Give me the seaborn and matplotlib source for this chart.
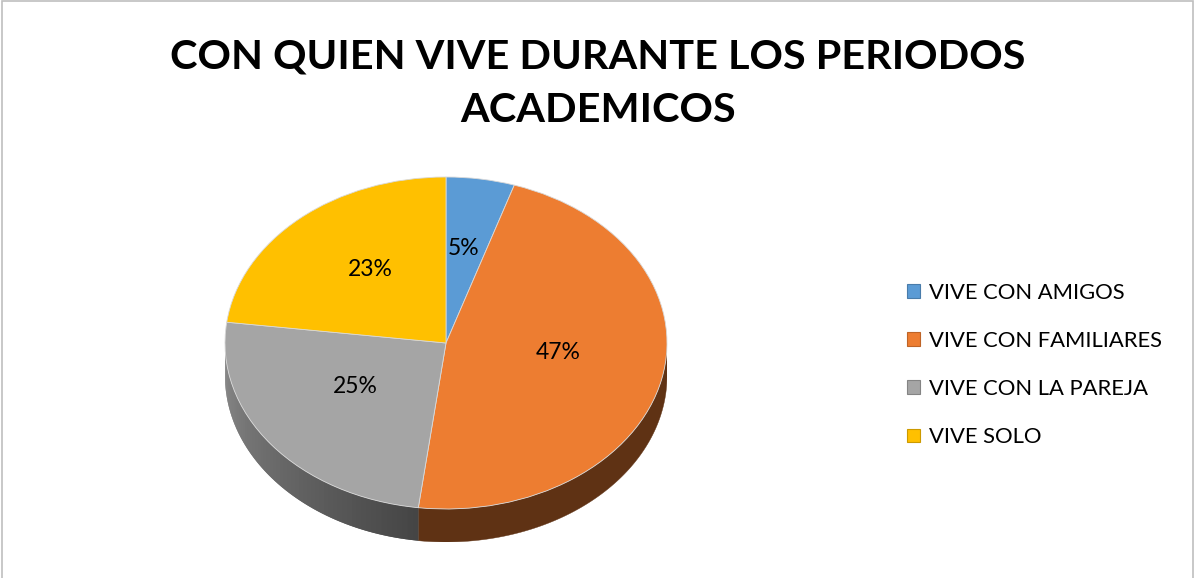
import numpy as np
import matplotlib
matplotlib.use("Agg")
import matplotlib.pyplot as plt
import matplotlib.transforms as mtransforms
import seaborn as sns
from matplotlib.patches import Polygon, Rectangle
from matplotlib.colors import to_rgb

categories = ["VIVE CON AMIGOS", "VIVE CON FAMILIARES", "VIVE CON LA PAREJA", "VIVE SOLO"]
shares = [5, 47, 25, 23]
top_colors = ["#5B9BD5", "#ED7D31", "#A5A5A5", "#FFC000"]
title = "CON QUIEN VIVE DURANTE LOS PERIODOS\nACADEMICOS"

sns.set_theme(style="white")
plt.rcParams["font.family"] = ["Lato", "DejaVu Sans"]
plt.rcParams["text.color"] = "black"

W, H = 1195, 578
fig = plt.figure(figsize=(W / 100, H / 100), dpi=100)
fig.patch.set_facecolor("white")

# pie ellipse: x 225..667, top 177, top-face bottom 509, side down to ~542
depth = 33 / 166
ax = fig.add_axes([225 / W, (H - 542) / H, 442 / W, (542 - 177) / H])

wedges, texts, autotexts = ax.pie(
    shares, colors=top_colors, startangle=90, counterclock=False,
    autopct="%1.0f%%", pctdistance=0.52,
    wedgeprops={"linewidth": 0.6, "edgecolor": "#d9d9d9"},
    textprops={"fontsize": 16.5, "color": "black"})
ax.set_aspect("auto")
ax.set_xlim(-1, 1)
ax.set_ylim(-1 - depth, 1)
ax.axis("off")

# labels sit a bit higher in the perspective view
for t in autotexts:
    t.set_transform(mtransforms.offset_copy(t.get_transform(), fig=fig, x=0, y=9, units="dots"))
    t.set_zorder(3)

# side of the 3D disc (front half only)
def shade(c, f):
    r, g, b = to_rgb(c)
    return (r * f, g * f, b * f)

for w, col in zip(wedges, top_colors):
    t = np.radians(np.linspace(w.theta1, w.theta2, 400))
    t = t[np.sin(t) <= 0.0]
    if len(t) < 2:
        continue
    if col == "#A5A5A5":
        # gray side has a light-to-dark gradient
        n = 60
        edges = np.linspace(t.min(), t.max(), n + 1)
        for i in range(n):
            tt = np.linspace(edges[i], edges[min(i + 2, n)], 8)
            f = 0.84 - 0.42 * (i / (n - 1))
            xs = np.concatenate([np.cos(tt), np.cos(tt[::-1])])
            ys = np.concatenate([np.sin(tt), np.sin(tt[::-1]) - depth])
            ax.add_patch(Polygon(np.column_stack([xs, ys]), closed=True,
                                 fc=shade("#A5A5A5", f), lw=0, zorder=0))
    else:
        xs = np.concatenate([np.cos(t), np.cos(t[::-1])])
        ys = np.concatenate([np.sin(t), np.sin(t[::-1]) - depth])
        ax.add_patch(Polygon(np.column_stack([xs, ys]), closed=True,
                             fc=shade(col, 0.40), ec=shade(col, 0.40), lw=0.3, zorder=0))

for w in wedges:
    w.set_zorder(2)

# title
fig.text(598 / W, 1 - 84 / H, title, ha="center", va="center", color="black",
         fontsize=29.8, fontweight="bold", linespacing=1.55)

# legend
handles = [Rectangle((0, 0), 1, 1, fc=c, ec=shade(c, 0.8), lw=0.8) for c in top_colors]
fig.legend(handles, categories, loc="upper left",
           bbox_to_anchor=(896 / W, 1 - 272 / H), frameon=False,
           fontsize=15.8, labelcolor="black", handlelength=0.6, handleheight=0.6,
           handletextpad=0.4, labelspacing=1.28, borderpad=0)

# chart border
fig.add_artist(Rectangle((1.5 / W, -0.02), (W - 4) / W, 1.0 - 1 / H + 0.02,
                         transform=fig.transFigure, fill=False,
                         ec="#bfbfbf", lw=1.2))

fig.savefig("out.png", dpi=100)
